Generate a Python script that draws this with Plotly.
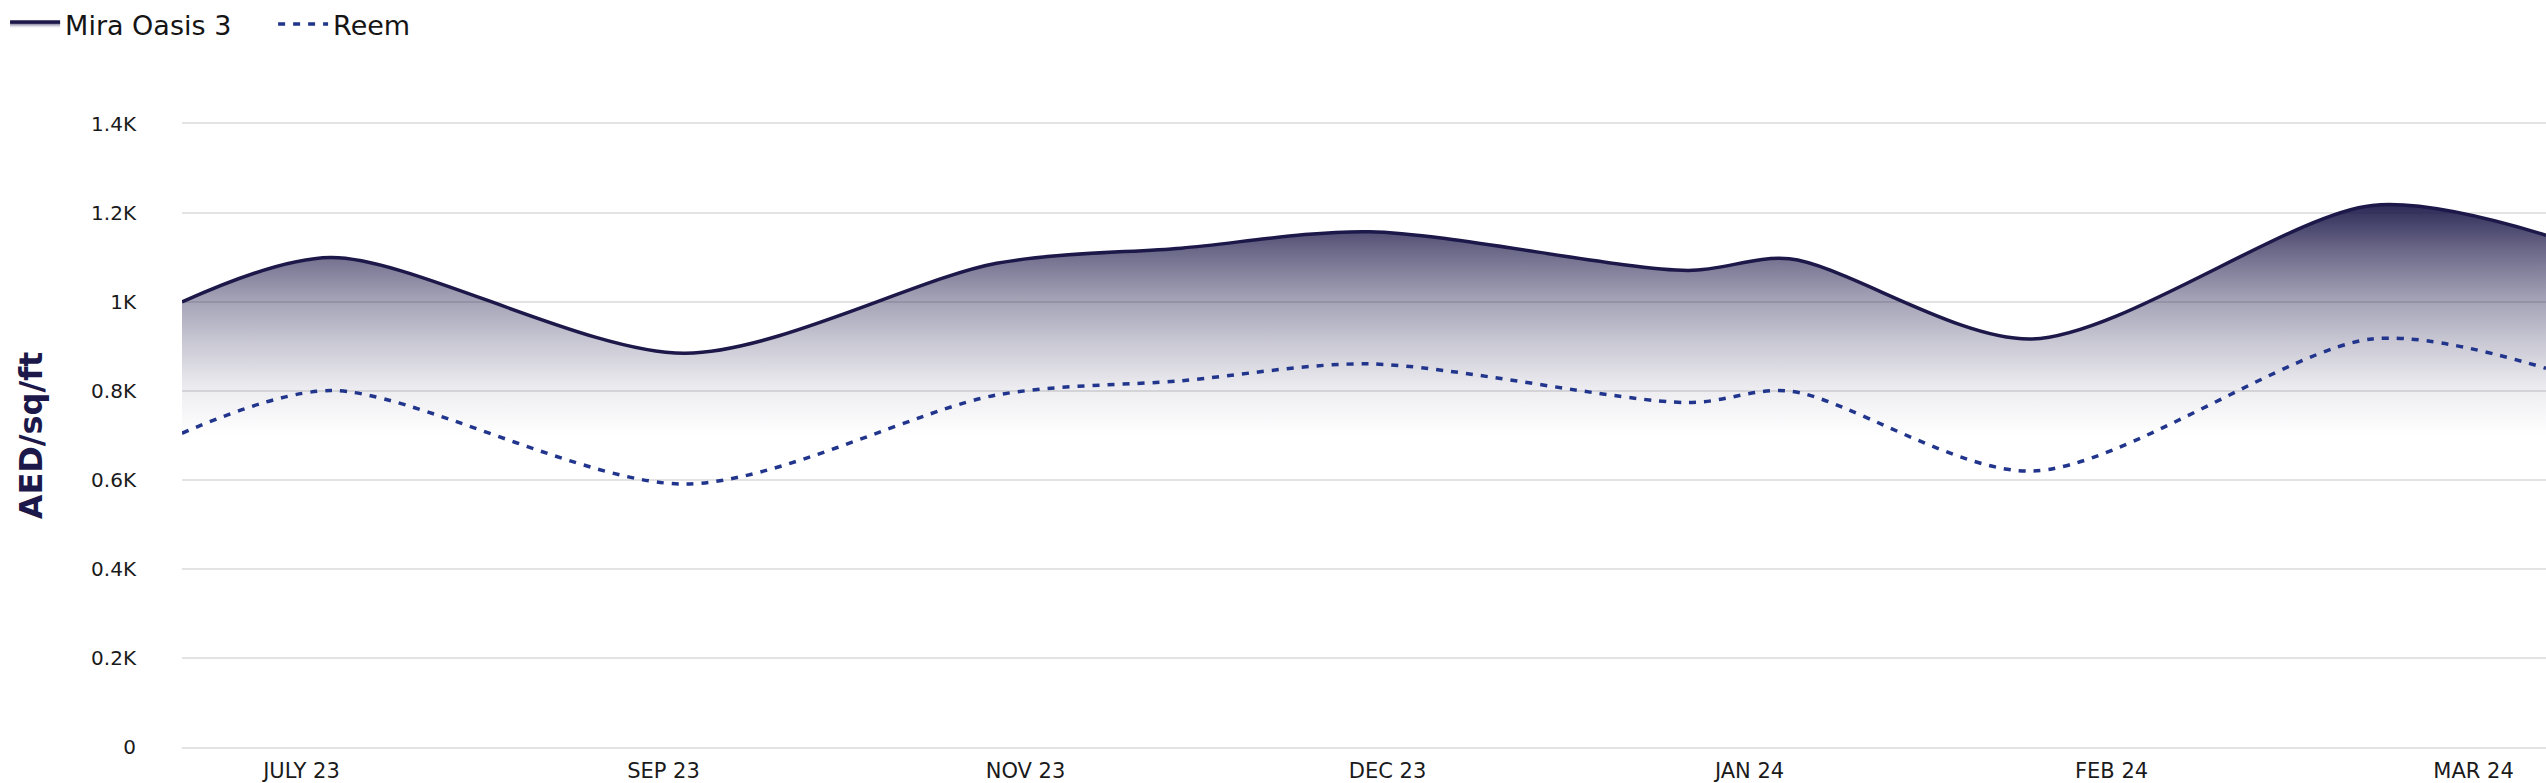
import plotly.graph_objects as go

# ---- data ----
x_tick_labels = ["JULY 23", "SEP 23", "NOV 23", "DEC 23", "JAN 24", "FEB 24", "MAR 24"]
x_tick_pos = [0, 1, 2, 3, 4, 5, 6]
x_points = [-0.33, 0.08, 1.06, 1.92, 2.43, 2.95, 3.83, 4.11, 4.78, 5.72, 6.2]
mira_oasis_3 = [1000, 1100, 885, 1087, 1121, 1158, 1071, 1097, 917, 1217, 1150]
reem = [705, 801, 591, 791, 823, 861, 774, 800, 620, 917, 851]
y_tick_vals = [0, 200, 400, 600, 800, 1000, 1200, 1400]
y_tick_labels = ["0", "0.2K", "0.4K", "0.6K", "0.8K", "1K", "1.2K", "1.4K"]

FONT = "DejaVu Sans"
NAVY = "#1c1849"
BLUE = "#22358c"
GRID = "#e3e3e3"

fig = go.Figure()

fig.add_trace(go.Scatter(
    x=x_points, y=mira_oasis_3, name="Mira Oasis 3",
    mode="lines",
    line=dict(color=NAVY, width=3.5, shape="spline", smoothing=0.85),
    fill="tozeroy",
    fillgradient=dict(
        type="vertical", start=700, stop=1225,
        colorscale=[
            [0.0, "rgba(28,24,73,0)"],
            [0.2, "rgba(28,24,73,0.08)"],
            [0.4, "rgba(28,24,73,0.24)"],
            [0.6, "rgba(28,24,73,0.42)"],
            [0.8, "rgba(28,24,73,0.66)"],
            [1.0, "rgba(28,24,73,0.94)"],
        ],
    ),
    hoverinfo="skip",
))

fig.add_trace(go.Scatter(
    x=x_points, y=reem, name="Reem",
    mode="lines",
    line=dict(color=BLUE, width=3.5, shape="spline", smoothing=0.85, dash="7px,8px"),
    hoverinfo="skip",
))

fig.update_layout(
    width=2546, height=783,
    margin=dict(l=182, r=0, t=124, b=36, autoexpand=False),
    paper_bgcolor="white", plot_bgcolor="white",
    font=dict(family=FONT, color="#1a1a1a"),
    showlegend=True,
    legend=dict(
        orientation="h", xref="container", yref="container",
        x=0.002, y=1.0, xanchor="left", yanchor="top",
        font=dict(family=FONT, size=27, color="#151515"),
        bgcolor="rgba(0,0,0,0)", borderwidth=0,
        itemwidth=50,
        entrywidth=203, entrywidthmode="pixels",
    ),
    xaxis=dict(
        range=[-0.33, 6.2], automargin=False,
        tickmode="array", tickvals=x_tick_pos, ticktext=x_tick_labels,
        showgrid=False, zeroline=False,
        showline=True, mirror=True, linecolor=GRID, linewidth=1.5,
        ticks="",
        tickfont=dict(family=FONT, size=21, color="#1a1a1a"),
        ticklabelstandoff=4,
    ),
    yaxis=dict(
        range=[0, 1400], automargin=False,
        tickmode="array", tickvals=y_tick_vals, ticktext=y_tick_labels,
        showgrid=True, gridcolor=GRID, gridwidth=1.5,
        zeroline=False, showline=False, ticks="",
        tickfont=dict(family=FONT, size=20, color="#1a1a1a"),
        ticklabelstandoff=45,
        title=dict(text="AED/sq/ft", font=dict(family=FONT, size=32, color=NAVY, weight=600), standoff=38),
    ),
)

fig.write_html("out.html")
